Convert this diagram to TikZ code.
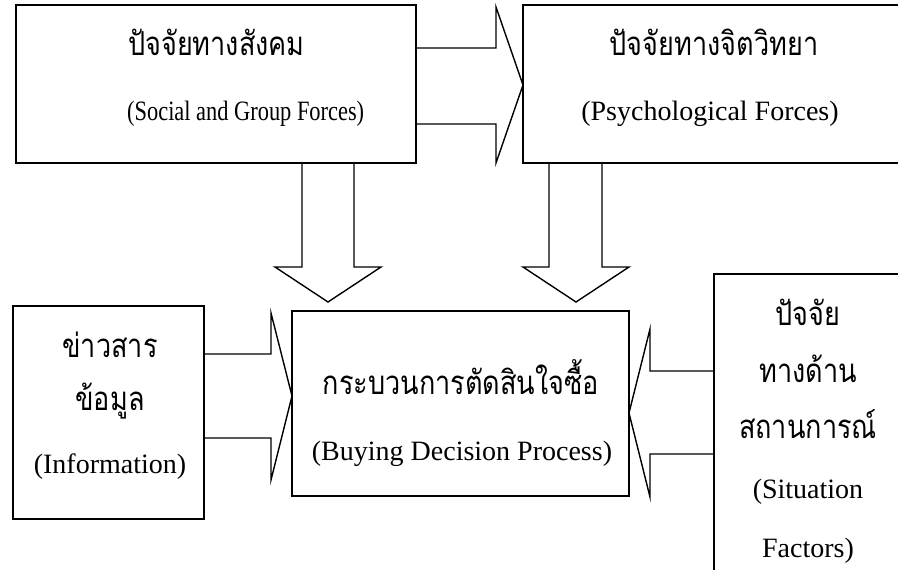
\documentclass[tikz,border=0pt]{standalone}
\usepackage{fontspec}
\setmainfont{Liberation Serif}
\newfontfamily\narrowserif{Liberation Serif}[FakeStretch=0.8]
\newfontfamily\thaifont[Script=Thai,FakeStretch=0.82]{Loma}
\begin{document}
\begin{tikzpicture}[x=1pt,y=-1pt,
  box/.style={draw, line width=2pt, inner sep=0pt, outer sep=0pt},
  thai/.style={font=\thaifont\fontsize{33}{38}\selectfont, anchor=base, inner sep=0pt},
  eng/.style={font=\fontsize{28}{34}\selectfont, anchor=base, inner sep=0pt},
  blockarrow/.style={draw, line width=1.4pt, line join=miter}]
\useasboundingbox (0,0) rectangle (898,570);
\clip (0,0) rectangle (898,570);

% boxes
\node[box, minimum width=400pt, minimum height=157.7pt] (social) at (216,83.85) {};
\node[box, minimum width=386pt, minimum height=157.7pt] (psych) at (716,83.85) {};
\node[box, minimum width=337pt, minimum height=184.5pt] (process) at (460.5,403.25) {};
\node[box, minimum width=191.3pt, minimum height=213pt] (info) at (108.35,412.5) {};
\node[box, minimum width=196pt, minimum height=296.5pt] (situation) at (812,422.25) {};

% labels
\node[thai, anchor=base west] (socialth) at (128,55) {ปัจจัยทางสังคม};
\node[eng, anchor=base west, font=\narrowserif\fontsize{28}{34}\selectfont] (socialen) at (127,120) {(Social and Group Forces)};
\node[thai] (psychth) at (714,55) {ปัจจัยทางจิตวิทยา};
\node[eng]  (psychen) at (710,120) {(Psychological Forces)};
\node[thai] (processth) at (461,394) {กระบวนการตัดสินใจซื้อ};
\node[eng]  (processen) at (462,460) {(Buying Decision Process)};
\node[thai] (infoth1) at (110,357) {ข่าวสาร};
\node[thai] (infoth2) at (110,410) {ข้อมูล};
\node[eng]  (infoen) at (110,473) {(Information)};
\node[thai] (situth1) at (808,325) {ปัจจัย};
\node[thai] (situth2) at (808,382) {ทางด้าน};
\node[thai] (situth3) at (808,438) {สถานการณ์};
\node[eng]  (situen1) at (808,498) {(Situation};
\node[eng]  (situen2) at (808,557) {Factors)};

% arrow tips
\coordinate (tipA) at (psych.west |- 0,85);
\coordinate (tipB) at (328,302);
\coordinate (tipC) at (576,302);
\coordinate (tipD) at (process.west |- 0,396);
\coordinate (tipE) at (process.east |- 0,413);

% block arrows
\draw[blockarrow] (social.east |- 0,48) -- (496,48) -- (496,7) -- (tipA)
  -- (496,163) -- (496,124) -- (social.east |- 0,124);
\draw[blockarrow] (302,0 |- social.south) -- (302,267) -- (275,267) -- (tipB)
  -- (381,267) -- (354,267) -- (354,0 |- social.south);
\draw[blockarrow] (549,0 |- psych.south) -- (549,267) -- (523,267) -- (tipC)
  -- (629,267) -- (602,267) -- (602,0 |- psych.south);
\draw[blockarrow] (info.east |- 0,354) -- (271,354) -- (271,313) -- (tipD)
  -- (271,480) -- (271,438) -- (info.east |- 0,438);
\draw[blockarrow] (situation.west |- 0,371) -- (650,371) -- (650,329) -- (tipE)
  -- (650,497) -- (650,454) -- (situation.west |- 0,454);
\end{tikzpicture}
\end{document}
